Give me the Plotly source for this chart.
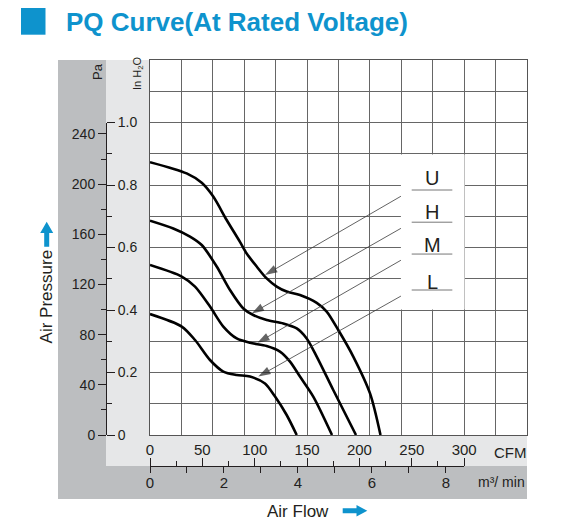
import plotly.graph_objects as go

W, H = 574, 527
FONT = "Liberation Sans, Arial, sans-serif"
BLUE = "#0e93cd"
INK = "#231f20"

# PQ curves: air flow (CFM) vs static pressure (inH2O)
u_cfm = [0, 35, 49.4, 60.4, 73.2, 85.9, 92.3, 101.9, 111.4, 121, 130.5, 143.2, 159.2, 168.7, 179.8, 194.1, 210.1, 220.1]
u_inh2o = [0.873, 0.837, 0.807, 0.763, 0.688, 0.618, 0.581, 0.539, 0.501, 0.475, 0.459, 0.448, 0.423, 0.395, 0.336, 0.251, 0.133, 0]

h_cfm = [0, 22.2, 38.2, 49.4, 63.7, 76.4, 89.1, 98.6, 111.4, 127.3, 140.1, 149.6, 159.2, 175, 196.7]
h_inh2o = [0.686, 0.661, 0.635, 0.608, 0.539, 0.464, 0.405, 0.384, 0.368, 0.357, 0.341, 0.309, 0.251, 0.144, 0]

m_cfm = [0, 30.3, 43, 57.3, 70, 82.8, 95.5, 111.4, 124.1, 133.7, 143.2, 155.9, 173.8]
m_inh2o = [0.544, 0.507, 0.475, 0.411, 0.347, 0.309, 0.295, 0.285, 0.267, 0.235, 0.187, 0.123, 0]

l_cfm = [0, 30.3, 43, 57.3, 70, 82.8, 95.5, 109.8, 119.4, 130.5, 140.1]
l_inh2o = [0.387, 0.347, 0.304, 0.240, 0.203, 0.192, 0.187, 0.165, 0.123, 0.064, 0]

speed_names = ["U", "H", "M", "L"]
# where each leader arrow touches its curve (CFM, inH2O)
tip_cfm = [109.8, 97.1, 102.5, 103.4]
tip_inh2o = [0.512, 0.389, 0.295, 0.187]

# secondary scales
pa_ticks = [0, 40, 80, 120, 160, 200, 240]
inh2o_ticks = [0, 0.2, 0.4, 0.6, 0.8, 1.0]
inh2o_text = ["0", "0.2", "0.4", "0.6", "0.8", "1.0"]
PA_PER_INH2O = 249.09
CFM_PER_M3MIN = 35.3147


def px(x):
    return x / W


def py(y):
    return 1 - y / H


fig = go.Figure()

for xs, ys in [(u_cfm, u_inh2o), (h_cfm, h_inh2o), (m_cfm, m_inh2o), (l_cfm, l_inh2o)]:
    fig.add_trace(go.Scatter(x=xs, y=ys, mode="lines",
                             line=dict(color="black", width=2.6, shape="spline", smoothing=0.8),
                             showlegend=False, hoverinfo="skip"))

# white box that cuts the grid behind the speed labels
fig.add_shape(type="rect", x0=239.6, x1=300.4, y0=0.402, y1=0.898,
              fillcolor="white", line=dict(width=0), layer="above")

# speed labels, underlines, leader arrows
tail_cfm = 249.9
label_y = [0.822, 0.714, 0.608, 0.491]
under_y = [0.784, 0.681, 0.579, 0.464]
for name, ly, uy, tx, ty in zip(speed_names, label_y, under_y, tip_cfm, tip_inh2o):
    fig.add_trace(go.Scatter(x=[tail_cfm, tx], y=[uy, ty], mode="lines+markers",
                             line=dict(color="#3a3a3a", width=0.8),
                             marker=dict(symbol="arrow", size=[0, 13], angleref="previous",
                                         color="#222", line=dict(width=0)),
                             showlegend=False, hoverinfo="skip"))
    fig.add_shape(type="line", x0=tail_cfm, x1=288.7, y0=uy, y1=uy,
                  line=dict(color="#777", width=1), layer="above")
    fig.add_annotation(x=269.3, y=ly, text=name, showarrow=False,
                       font=dict(family=FONT, size=20, color=INK))

# dummy traces so the free scale axes get drawn
fig.add_trace(go.Scatter(x=[0], y=[0], xaxis="x2", yaxis="y2", mode="markers",
                         marker=dict(opacity=0), showlegend=False, hoverinfo="skip"))
fig.add_trace(go.Scatter(x=[0], y=[0], xaxis="x3", yaxis="y3", mode="markers",
                         marker=dict(opacity=0), showlegend=False, hoverinfo="skip"))

# grey frame bands
dark, light = "#bcbec0", "#e6e7e8"
for (x0, y0, x1, y1, c) in [(58, 60, 106, 499, dark), (58, 466, 527, 499, dark),
                            (106, 60, 150, 466, light), (106, 435, 527, 466, light)]:
    fig.add_shape(type="rect", xref="paper", yref="paper", x0=px(x0), x1=px(x1), y0=py(y1), y1=py(y0),
                  fillcolor=c, line=dict(width=0), layer="below")

# title square
fig.add_shape(type="rect", xref="paper", yref="paper", x0=px(21), x1=px(45.5), y0=py(34.7), y1=py(8),
              fillcolor=BLUE, line=dict(width=0))

# blue direction arrows
up = "M {} {} L {} {} L {} {} L {} {} L {} {} L {} {} L {} {} Z".format(
    px(46.7), py(221.7), px(53.2), py(233), px(49.2), py(233), px(49.2), py(246.7),
    px(44.2), py(246.7), px(44.2), py(233), px(40.2), py(233))
right = "M {} {} L {} {} L {} {} L {} {} L {} {} L {} {} L {} {} Z".format(
    px(367.3), py(510.8), px(356.5), py(505), px(356.5), py(508.3), px(342.7), py(508.3),
    px(342.7), py(513.3), px(356.5), py(513.3), px(356.5), py(516.6))
for p in [up, right]:
    fig.add_shape(type="path", xref="paper", yref="paper", path=p, fillcolor=BLUE, line=dict(width=0))

texts = [
    ("PQ Curve(At Rated Voltage)", 64, 22, 0, 26, BLUE, "left", True),
    ("Air Pressure", 46.7, 296.7, -90, 17, INK, "center", False),
    ("Air Flow", 298, 511.7, 0, 17, INK, "center", False),
    ("Pa", 98, 72, -90, 13, INK, "center", False),
    ("In H<sub>2</sub>O", 138, 74, -90, 11, INK, "center", False),
    ("CFM", 510, 452.5, 0, 15, INK, "center", False),
    ("m³/ min", 501, 481.5, 0, 14, INK, "center", False),
]
for t, x, y, ang, sz, col, anc, bold in texts:
    fig.add_annotation(xref="paper", yref="paper", x=px(x), y=py(y), text=t, textangle=ang,
                       showarrow=False, xanchor=anc, yanchor="middle",
                       font=dict(family=FONT, size=sz, color=col, weight="bold" if bold else "normal"))

tickfont = dict(family=FONT, size=14, color=INK)
cfm_end = 150 + 300 * 377 / 360

fig.update_layout(
    width=W, height=H,
    margin=dict(l=0, r=0, t=0, b=0),
    paper_bgcolor="white", plot_bgcolor="rgba(0,0,0,0)",
    xaxis=dict(domain=[px(150), px(527)], range=[0, 360], dtick=30, showticklabels=False, ticks="",
               showgrid=True, gridcolor="#666", gridwidth=1, zeroline=False, automargin=False,
               showline=True, mirror=True, linecolor="#555", linewidth=1),
    yaxis=dict(domain=[py(435), py(60)], range=[0, 1.2], dtick=0.1, showticklabels=False, ticks="",
               showgrid=True, gridcolor="#666", gridwidth=1, zeroline=False, automargin=False,
               showline=True, mirror=True, linecolor="#555", linewidth=1),
    xaxis2=dict(domain=[px(150), px(cfm_end)], range=[0, 300], anchor="free", position=py(466),
                side="top", dtick=50, ticks="outside", ticklen=8, tickcolor=INK, automargin=False,
                minor=dict(dtick=25, ticks="outside", ticklen=5, tickcolor=INK), ticklabelstandoff=-3,
                showline=True, linecolor=INK, linewidth=1, showgrid=False, zeroline=False,
                tickfont=dict(family=FONT, size=15, color=INK)),
    xaxis3=dict(domain=[px(150), px(cfm_end)], range=[0, 300 / CFM_PER_M3MIN], anchor="free",
                position=py(466), side="bottom", dtick=2, ticks="outside", ticklen=6, tickcolor=INK,
                minor=dict(dtick=1, ticks="outside", ticklen=6, tickcolor=INK), automargin=False,
                ticklabelstandoff=-3,
                showline=True, linecolor=INK, linewidth=1, showgrid=False, zeroline=False,
                tickfont=dict(family=FONT, size=15, color=INK)),
    yaxis2=dict(domain=[py(435), py(435 - 312.5)], range=[0, PA_PER_INH2O], anchor="free", position=px(106),
                side="left", tickvals=pa_ticks, ticks="outside", ticklen=8, tickcolor=INK,
                minor=dict(dtick=20, ticks="outside", ticklen=5, tickcolor=INK), automargin=False,
                showline=True, linecolor=INK, linewidth=1, showgrid=False, zeroline=False,
                tickfont=tickfont),
    yaxis3=dict(domain=[py(435), py(435 - 312.5)], range=[0, 1.0], anchor="free", position=px(106),
                side="right", tickvals=inh2o_ticks, ticktext=inh2o_text, ticks="outside", ticklen=8,
                tickcolor=INK, minor=dict(dtick=0.1, ticks="outside", ticklen=5, tickcolor=INK),
                automargin=False,
                showline=True, linecolor=INK, linewidth=1, showgrid=False, zeroline=False,
                tickfont=tickfont),
)

fig.write_html("out.html", config={"displayModeBar": False},
               post_script="document.body.style.margin='0';")
